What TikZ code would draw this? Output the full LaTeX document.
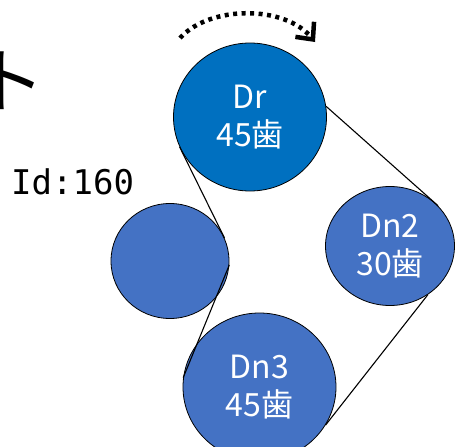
\documentclass[tikz,border=0pt]{standalone}
\usepackage{fontspec}
\usepackage{tikz}
\usetikzlibrary{arrows.meta,shapes.geometric}
\newfontfamily\jpfont{Noto Sans CJK JP}
\newfontfamily\idfont{DejaVu Sans Mono}
\definecolor{drblue}{HTML}{0070C0}
\definecolor{gearblue}{HTML}{4472C4}

\begin{document}
\begin{tikzpicture}[x=1pt,y=-1pt,gear/.style={ellipse,draw=black,line width=0.8pt,fill=gearblue,text=white,align=center,inner sep=0pt,font=\jpfont\fontsize{32}{38}\selectfont},belt/.style={draw=black,line width=1.1pt},turn/.style={-{Straight Barb[length=13pt,width=24pt]},line width=4.5pt,dash pattern=on 4pt off 4.5pt}]
\useasboundingbox (0,0) rectangle (461,447);
\clip (0,0) rectangle (461,447);
\node[anchor=base east,inner sep=0pt,font=\jpfont\fontsize{72}{72}\selectfont] (title) at (46,107) {ト};
\node[anchor=base west,inner sep=0pt,font=\idfont\fontsize{34}{34}\selectfont] (idcount) at (11,194) {Id:160};
\node[gear,fill=drblue,minimum width=153pt,minimum height=148pt] (dr) at (250,117) {Dr\\45歯};
\node[gear,minimum width=118pt,minimum height=115pt] (idler) at (170,261) {};
\node[gear,minimum width=129pt,minimum height=119pt] (dn2) at (390,246) {Dn2\\30歯};
\node[gear,minimum width=153pt,minimum height=148pt] (dn3) at (259.5,387) {Dn3\\45歯};
\draw[belt] (dr.203) -- (idler.23);
\draw[belt] (idler.356) -- (dn3.173);
\draw[belt] (dr.8) -- (dn2.40);
\draw[belt] (dn2.308) -- (dn3.330);
% rotation of the drive gear
\coordinate (rotfrom) at (180,38);
\coordinate (rotto) at (315,42);
\draw[turn] (rotfrom) .. controls (210,5) and (285,5) .. (rotto);
\end{tikzpicture}
\end{document}
